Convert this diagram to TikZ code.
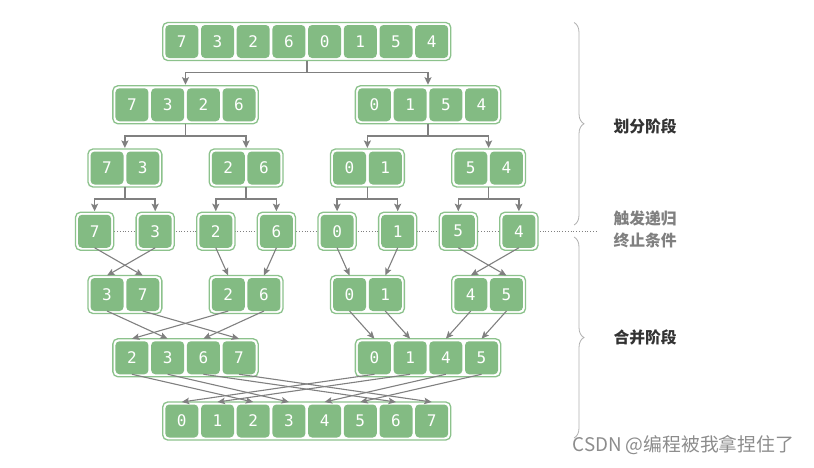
\documentclass[tikz,border=0pt]{standalone}
\usepackage{fontspec}
\newfontfamily\monof{DejaVu Sans Mono}
\newfontfamily\cjk{Noto Sans CJK SC}
\usetikzlibrary{arrows.meta,decorations.pathreplacing}
\definecolor{cellgreen}{RGB}{131,187,131}
\definecolor{boxgreen}{RGB}{140,194,140}
\definecolor{conngray}{RGB}{128,128,128}
\definecolor{bracegray}{RGB}{175,175,175}
\tikzset{
  outerbox/.style={draw=boxgreen,line width=1.3pt,fill=white,rounded corners=5pt,inner sep=0pt,outer sep=0pt,minimum height=38pt},
  cell/.style={fill=cellgreen,rounded corners=4pt,inner sep=0pt,outer sep=0pt,minimum size=33pt,text=white,font=\monof\fontsize{16}{16}\selectfont},
  tree/.style={draw=conngray,line width=1.5pt,-{Stealth[length=7.5pt,width=7pt,inset=1.5pt]},shorten >=1pt},
  merge/.style={draw=conngray,line width=1.1pt,-{Stealth[length=7.5pt,width=6.5pt,inset=1.5pt]}},
  bracestyle/.style={draw=bracegray,line width=0.8pt,decorate,decoration={brace,amplitude=10pt,aspect=0.5}},
  lab/.style={font=\cjk\bfseries\fontsize{15.8}{22}\selectfont,anchor=west}
}
% #1 name, #2 count, #3 x, #4 y, #5 values
\newcommand\arrbox[5]{%
  \node[outerbox,minimum width={#2*35.7+2.5}] (#1) at (#3,#4) {};
  \foreach \v [count=\i] in {#5} {\node[cell] (#1-\i) at ({#3+(\i-(#2+1)/2)*35.7},#4) {\v};}
}
\begin{document}
\begin{tikzpicture}[x=1pt,y=-1pt]
\useasboundingbox (0,0) rectangle (814,467);
% dotted line (termination)
\coordinate (dotL) at (75,231.25);
\coordinate (dotR) at (597,231.25);
\draw[conngray,dotted,line width=0.8pt] (dotL) -- (dotR);
% division phase
\arrbox{a}{8}{306.75}{41.5}{7,3,2,6,0,1,5,4}
\arrbox{b1}{4}{185.5}{104.75}{7,3,2,6}
\arrbox{b2}{4}{428}{104.75}{0,1,5,4}
\arrbox{c1}{2}{124.9}{168}{7,3}
\arrbox{c2}{2}{246.1}{168}{2,6}
\arrbox{c3}{2}{367.4}{168}{0,1}
\arrbox{c4}{2}{488.6}{168}{5,4}
\arrbox{s1}{1}{94.6}{231.25}{7}
\arrbox{s2}{1}{155.2}{231.25}{3}
\arrbox{s3}{1}{215.8}{231.25}{2}
\arrbox{s4}{1}{276.4}{231.25}{6}
\arrbox{s5}{1}{337.1}{231.25}{0}
\arrbox{s6}{1}{397.7}{231.25}{1}
\arrbox{s7}{1}{458.3}{231.25}{5}
\arrbox{s8}{1}{518.9}{231.25}{4}
% merge phase
\arrbox{m1}{2}{124.9}{294.5}{3,7}
\arrbox{m2}{2}{246.1}{294.5}{2,6}
\arrbox{m3}{2}{367.4}{294.5}{0,1}
\arrbox{m4}{2}{488.6}{294.5}{4,5}
\arrbox{n1}{4}{185.5}{357.75}{2,3,6,7}
\arrbox{n2}{4}{428}{357.75}{0,1,4,5}
\arrbox{z}{8}{306.75}{421}{0,1,2,3,4,5,6,7}
% tree connectors
\foreach \p/\l/\r in {a/b1/b2, b1/c1/c2, b2/c3/c4, c1/s1/s2, c2/s3/s4, c3/s5/s6, c4/s7/s8} {
  \draw[tree] (\p.south) -- ++(0,12) -| (\l.north);
  \draw[tree] (\p.south) -- ++(0,12) -| (\r.north);
}
% merge connectors
\foreach \s/\t in {s1-1/m1-2, s2-1/m1-1, s3-1/m2-1, s4-1/m2-2, s5-1/m3-1, s6-1/m3-2, s7-1/m4-2, s8-1/m4-1}
  {\draw[merge] (\s.south) -- (\t.north |- m1.north);}
\foreach \s/\t in {m1-1/n1-2, m1-2/n1-4, m2-1/n1-1, m2-2/n1-3, m3-1/n2-1, m3-2/n2-2, m4-1/n2-3, m4-2/n2-4}
  {\draw[merge] (\s.south) -- (\t.north |- n1.north);}
\foreach \s/\t in {n1-1/z-3, n1-2/z-4, n1-3/z-7, n1-4/z-8, n2-1/z-1, n2-2/z-2, n2-3/z-5, n2-4/z-6}
  {\draw[merge] (\s.south) -- (\t.north |- z.north);}
% braces
\coordinate (br1t) at (574,22.5);
\coordinate (br1b) at (574,225);
\coordinate (br2t) at (574,237);
\coordinate (br2b) at (574,438);
\draw[bracestyle] (br1t) -- (br1b);
\draw[bracestyle] (br2t) -- (br2b);
% labels
\node[lab,text=black!80] (l1) at (610,126) {划分阶段};
\node[lab,text=conngray,align=left] (l2) at (610,229) {触发递归\\终止条件};
\node[lab,text=black!80] (l3) at (610,337) {合并阶段};
\node[font=\cjk\fontsize{18.8}{18.8}\selectfont,text=black!45,anchor=west] (wm) at (569,445) {CSDN @编程被我拿捏住了};
\end{tikzpicture}
\end{document}
